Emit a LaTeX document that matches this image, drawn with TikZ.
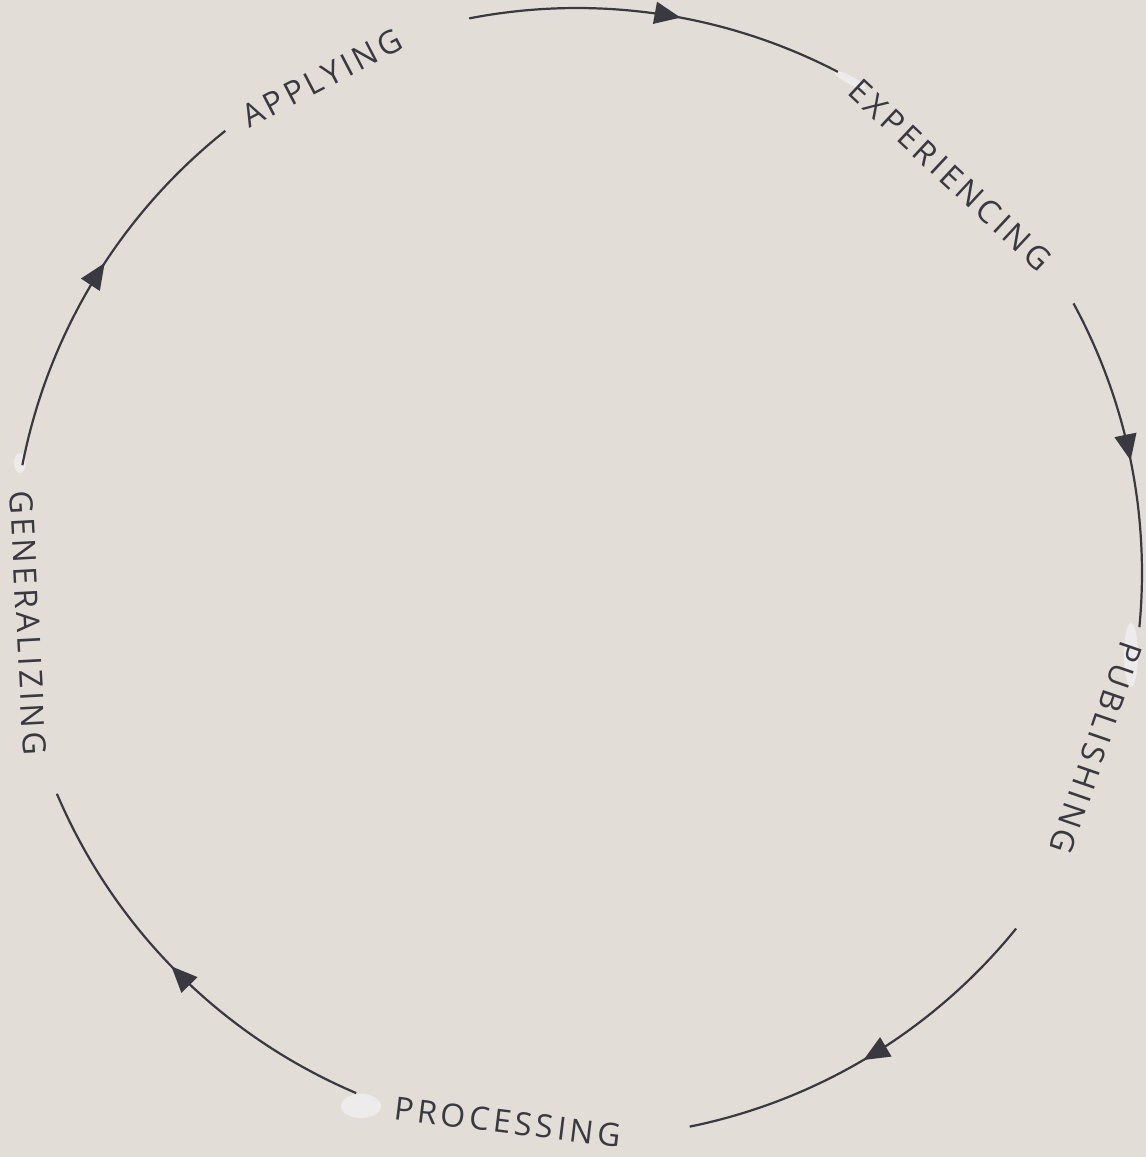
\documentclass[tikz,border=0pt]{standalone}
\usepackage{fontspec}
\setmainfont{Open Sans}
\newfontfamily\handcaps[LetterSpace=12]{Open Sans}
\usepackage{xcolor}
\usetikzlibrary{arrows.meta,decorations.markings,calc}

\definecolor{paper}{RGB}{226,221,214}
\definecolor{pencil}{RGB}{58,56,64}
\definecolor{fluid}{RGB}{242,242,244}

\tikzset{
  cyclearc/.style={draw=pencil, color=pencil, line width=1.1pt, postaction={decorate},
    decoration={markings, mark=at position #1 with {\arrow{Triangle[length=13pt,width=11pt]}}}},
  cyclearc/.default=0.53,
  phase/.style={text=pencil, font=\handcaps\fontsize{16}{16}\selectfont, inner sep=0pt},
  whiteout/.style={fill=fluid, draw=none, opacity=0.7}
}

\begin{document}
\begin{tikzpicture}[x=0.5pt,y=0.5pt,yscale=-1,xscale=1]
                %Paper
                \fill [paper] (0,0) rectangle (1146,1157);
                \useasboundingbox (0,0) rectangle (1146,1157);
                \coordinate (hub) at (577,573);
                %Correction fluid
                \fill [whiteout, rotate around={28:(850,80)}] (850,80) ellipse (18 and 4);
                \fill [whiteout] (1131,655) ellipse (7 and 32);
                \fill [whiteout] (20,463) ellipse (6 and 10);
                \fill [whiteout] (361,1106) ellipse (20 and 12);
                %Labels
                \node [phase, rotate=27.5] (applying) at (322,78) {APPLYING};
                \node [phase, rotate=-43] (experiencing) at (950,175) {EXPERIENCING};
                \node [phase, rotate=-109] (publishing) at (1096,748) {PUBLISHING};
                \node [phase, rotate=-7] (processing) at (508,1122) {PROCESSING};
                \node [phase, rotate=-87] (generalizing) at (28,623) {GENERALIZING};
                %Arc ends
                \coordinate (applying out) at ($(hub)+(-101:565)$);
                \coordinate (experiencing out) at ($(hub)+(-28.5:565)$);
                \coordinate (publishing out) at ($(hub)+(39:565)$);
                \coordinate (processing out) at ($(hub)+(113:565)$);
                \coordinate (generalizing out) at ($(hub)+(191:565)$);
                %Arc: applying to experiencing
                \draw [cyclearc=0.56] (applying out) arc [start angle=-101, end angle=-62.5, radius=565];
                %Arc: experiencing to publishing
                \draw [cyclearc=0.5] (experiencing out) arc [start angle=-28.5, end angle=5.5, radius=565];
                %Arc: publishing to processing
                \draw [cyclearc=0.52] (publishing out) arc [start angle=39, end angle=78.5, radius=565];
                %Arc: processing to generalizing
                \draw [cyclearc=0.52] (processing out) arc [start angle=113, end angle=157, radius=565];
                %Arc: generalizing to applying
                \draw [cyclearc=0.55] (generalizing out) arc [start angle=191, end angle=231.5, radius=565];
            \end{tikzpicture}
\end{document}
